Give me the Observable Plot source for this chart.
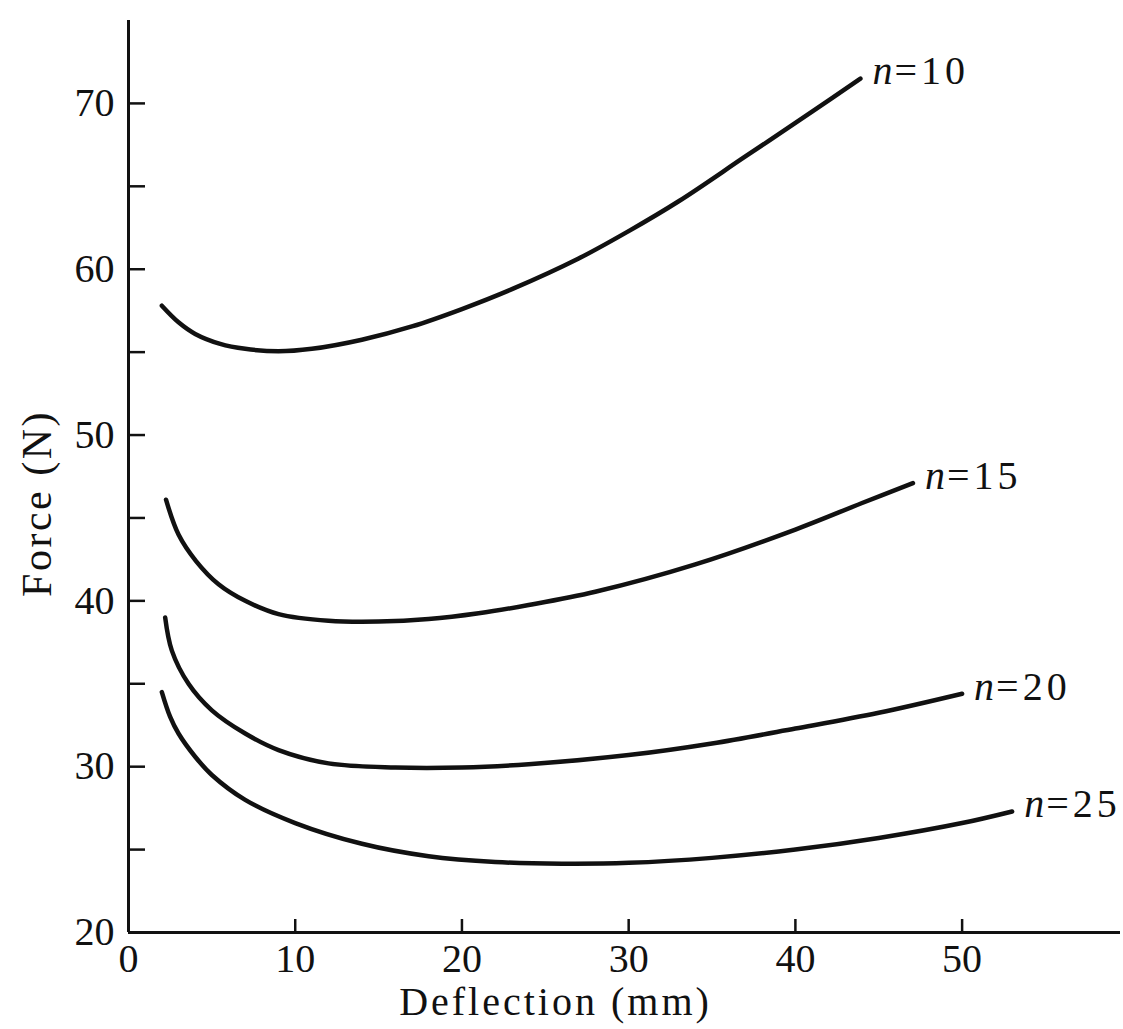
<!DOCTYPE html>
<html>
<head>
<meta charset="utf-8">
<script src="https://cdn.jsdelivr.net/npm/d3@7"></script>
<script src="https://cdn.jsdelivr.net/npm/@observablehq/plot@0.6"></script>
<style>
  html, body { margin: 0; padding: 0; background: #fff; }
  #chart { width: 1123px; height: 1029px; }
</style>
</head>
<body>
<div id="chart"></div>
<script>
// Series data: deflection (mm) and force (N)
const series = ["n=10", "n=15", "n=20", "n=25"];
const labelNum = ["=10", "=15", "=20", "=25"];

const defl10  = [2.0, 3.0, 4.0, 5.5, 7.0, 9.0, 11.0, 14.0, 17.0, 20.0, 23.0, 27.0, 30.0, 33.0, 37.0, 41.0, 43.9];
const force10 = [57.8, 56.8, 56.1, 55.5, 55.2, 55.05, 55.2, 55.75, 56.55, 57.6, 58.8, 60.65, 62.3, 64.1, 66.8, 69.5, 71.5];

const defl15  = [2.25, 3.0, 4.05, 5.4, 7.0, 9.0, 12.0, 15.0, 18.0, 21.0, 24.0, 28.0, 34.0, 40.0, 44.0, 47.05];
const force15 = [46.1, 44.0, 42.4, 41.0, 40.0, 39.2, 38.8, 38.75, 38.9, 39.25, 39.75, 40.55, 42.2, 44.3, 45.9, 47.1];

const defl20  = [2.2, 2.6, 3.6, 5.0, 7.0, 9.0, 12.0, 16.0, 20.0, 24.0, 30.0, 35.0, 40.0, 45.0, 50.0];
const force20 = [39.0, 37.0, 35.0, 33.4, 32.0, 31.0, 30.2, 29.95, 29.95, 30.15, 30.7, 31.4, 32.3, 33.25, 34.4];

const defl25  = [2.0, 2.5, 3.0, 4.0, 5.0, 7.0, 10.0, 14.0, 18.0, 22.0, 26.0, 30.0, 35.0, 40.0, 45.0, 50.0, 53.0];
const force25 = [34.5, 33.0, 32.0, 30.6, 29.5, 28.0, 26.6, 25.35, 24.6, 24.25, 24.15, 24.2, 24.5, 25.0, 25.7, 26.6, 27.3];

const xTicks = [0, 10, 20, 30, 40, 50];
const xTickMarks = [10, 20, 30, 40, 50];
const yTicks = [20, 30, 40, 50, 60, 70];
const yTickMarks = [25, 30, 35, 40, 45, 50, 55, 60, 65, 70];

const xLabel = "Deflection (mm)";
const yLabel = "Force (N)";

const allX = [defl10, defl15, defl20, defl25];
const allY = [force10, force15, force20, force25];
const rows = [];
series.forEach((s, i) => allX[i].forEach((x, j) => rows.push({series: s, x, y: allY[i][j]})));
const ends = series.map((s, i) => ({
  series: s,
  num: labelNum[i],
  x: allX[i][allX[i].length - 1],
  y: allY[i][allY[i].length - 1]
}));

const font = "'Liberation Serif', 'Times New Roman', Times, serif";

const chart = Plot.plot({
  width: 1123,
  height: 1029,
  marginLeft: 128,
  marginRight: 3,
  marginTop: 20,
  marginBottom: 97,
  style: {fontFamily: font, background: "#fff", color: "#111"},
  x: {domain: [0, 59.5]},
  y: {domain: [20, 75]},
  marks: [
    // inward tick marks
    Plot.axisX({ticks: xTickMarks, tickSize: -13, tickFormat: () => "", strokeWidth: 2.5, label: null}),
    Plot.axisY({ticks: yTickMarks, tickSize: -17, tickFormat: () => "", strokeWidth: 2.5, label: null}),
    // tick labels
    Plot.axisX({ticks: xTicks, tickSize: 0, tickPadding: 11, fontSize: 40, label: null}),
    Plot.axisY({ticks: yTicks, tickSize: 0, tickPadding: 14, fontSize: 40, label: null}),
    // axis lines
    Plot.ruleX([0], {stroke: "#111", strokeWidth: 3}),
    Plot.ruleY([20], {stroke: "#111", strokeWidth: 3}),
    // curves
    Plot.line(rows, {x: "x", y: "y", z: "series", curve: "catmull-rom", stroke: "#111", strokeWidth: 4.5, strokeLinecap: "round"}),
    // curve labels
    Plot.text(ends, {x: "x", y: "y", text: () => "n", fontStyle: "italic", fontSize: 40, textAnchor: "start", dx: 12, dy: -7, fill: "#111"}),
    Plot.text(ends, {x: "x", y: "y", text: "num", fontSize: 40, textAnchor: "start", dx: 34, dy: -7, fill: "#111"}),
    // axis titles
    Plot.text([xLabel], {frameAnchor: "bottom", textAnchor: "middle", dx: -69, dy: 70, fontSize: 40, lineAnchor: "middle", fill: "#111"}),
    Plot.text([yLabel], {frameAnchor: "left", textAnchor: "middle", rotate: -90, dx: -91, dy: 27, fontSize: 42, lineAnchor: "middle", fill: "#111"})
  ]
});

// letter spacing to mimic the loose old typesetting
d3.select(chart).selectAll("text").each(function() {
  const t = this.textContent;
  if (t === xLabel) d3.select(this).attr("letter-spacing", 3);
  else if (t === yLabel) d3.select(this).attr("letter-spacing", 2.5);
  else if (labelNum.includes(t)) d3.select(this).attr("letter-spacing", 4);
});

document.getElementById("chart").appendChild(chart);
</script>
</body>
</html>
